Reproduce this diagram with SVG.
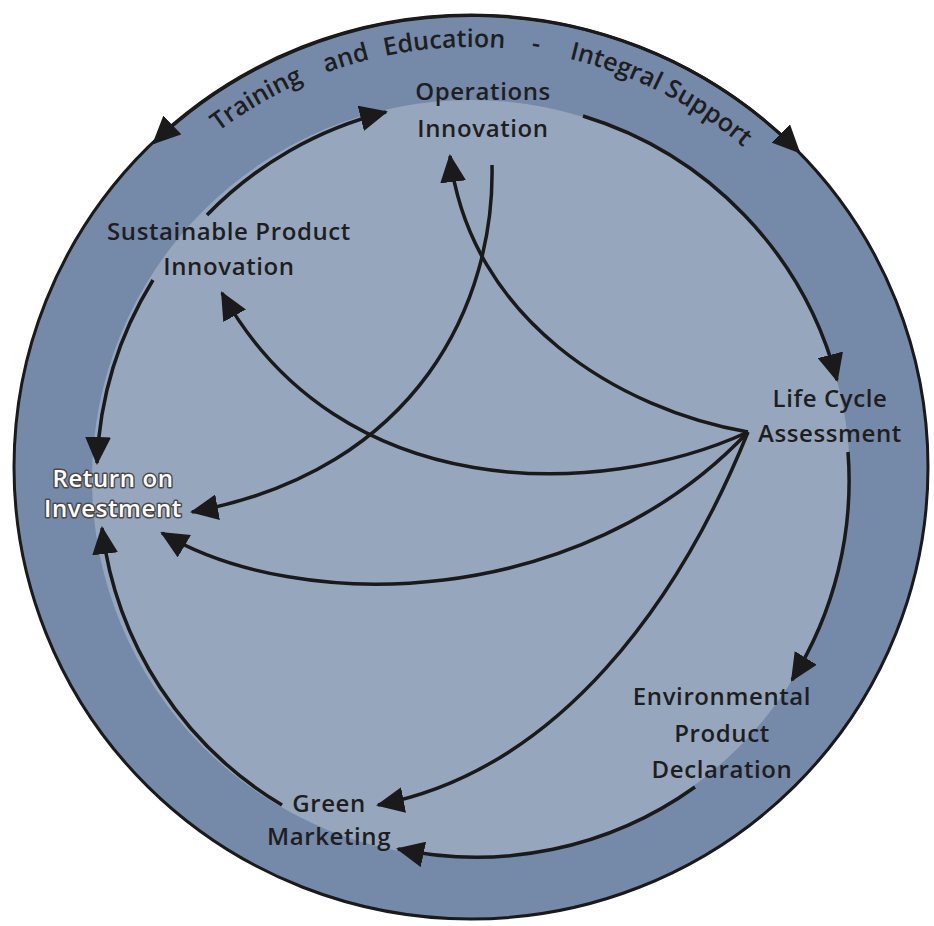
<svg xmlns="http://www.w3.org/2000/svg" width="934" height="926" viewBox="0 0 934 926">
<defs>
<style>
.lbl{font-family:"Open Sans","Noto Sans","Liberation Sans",sans-serif;font-weight:600;font-size:24px;letter-spacing:0.6px;fill:#1e1e1e;text-anchor:middle}
.roi{fill:#ffffff;stroke:#4a4a4a;stroke-width:3px;paint-order:stroke;stroke-linejoin:round}
.ring{font-family:"Open Sans","Noto Sans","Liberation Sans",sans-serif;font-weight:600;font-size:25px;fill:#1e1e1e}
.con{fill:none;stroke:#1a1a1a;stroke-width:3.5px;marker-end:url(#ah)}
</style>
<marker id="ah" markerUnits="userSpaceOnUse" markerWidth="28" markerHeight="26" viewBox="0 0 28 26" refX="26" refY="13" orient="auto">
<path d="M0,0 L28,13 L0,26 z" fill="#1a1a1a"/>
</marker>
<marker id="ah2" markerUnits="userSpaceOnUse" markerWidth="28" markerHeight="26" viewBox="0 0 28 26" refX="26" refY="13" orient="auto-start-reverse">
<path d="M0,0 L28,13 L0,26 z" fill="#1a1a1a"/>
</marker>
<path id="ringpath" d="M107.3,257 A420,420 0 0 1 834.7,257"/>
</defs>

<g id="background">
<ellipse cx="471" cy="467" rx="457" ry="452" fill="#7589a9" stroke="#1a1a1a" stroke-width="3"/>
<circle cx="471" cy="479" r="379" fill="#96a7bd"/>
</g>

<g id="outer-arrow">
<path d="M153.6,143 A457,452 0 0 1 799,152" fill="none" stroke="#1a1a1a" stroke-width="3" marker-start="url(#ah2)" marker-end="url(#ah2)"/>
<text class="ring"><textPath href="#ringpath" startOffset="24.8%" text-anchor="middle">Training</textPath></text>
<text class="ring"><textPath href="#ringpath" startOffset="35.8%" text-anchor="middle">and</textPath></text>
<text class="ring"><textPath href="#ringpath" startOffset="47%" text-anchor="middle">Education</textPath></text>
<text class="ring"><textPath href="#ringpath" startOffset="57.3%" text-anchor="middle">-</textPath></text>
<text class="ring"><textPath href="#ringpath" startOffset="66.6%" text-anchor="middle">Integral</textPath></text>
<text class="ring"><textPath href="#ringpath" startOffset="78.2%" text-anchor="middle">Support</textPath></text>
</g>

<g id="connectors">
<path class="con" d="M207,215 A376,376 0 0 1 386,112"/>
<path class="con" d="M583,116 A376,376 0 0 1 837,380"/>
<path class="con" d="M848,452 A376,376 0 0 1 792,680"/>
<path class="con" d="M695,787 A376,376 0 0 1 398,849"/>
<path class="con" d="M282,805 A376,376 0 0 1 102,528"/>
<path class="con" d="M153,280 A376,376 0 0 0 97,463"/>
<path class="con" d="M748,432 C620,410 470,320 450,156"/>
<path class="con" d="M748,432 C600,500 340,505 222,293"/>
<path class="con" d="M748,432 C580,610 300,615 162,533"/>
<path class="con" d="M748,432 C680,600 560,770 378,805"/>
<path class="con" d="M492,165 C495,300 420,470 192,512"/>
</g>

<g id="operations-innovation">
<text class="lbl" x="483" y="100">Operations</text>
<text class="lbl" x="483" y="137">Innovation</text>
</g>
<g id="sustainable-product-innovation">
<text class="lbl" x="229" y="240">Sustainable Product</text>
<text class="lbl" x="229" y="275">Innovation</text>
</g>
<g id="life-cycle-assessment">
<text class="lbl" x="830" y="407">Life Cycle</text>
<text class="lbl" x="830" y="442">Assessment</text>
</g>
<g id="environmental-product-declaration">
<text class="lbl" x="722" y="705">Environmental</text>
<text class="lbl" x="722" y="742">Product</text>
<text class="lbl" x="722" y="778">Declaration</text>
</g>
<g id="green-marketing">
<text class="lbl" x="329" y="812">Green</text>
<text class="lbl" x="329" y="845">Marketing</text>
</g>
<g id="return-on-investment">
<text class="lbl roi" x="113" y="487">Return on</text>
<text class="lbl roi" x="113" y="517">Investment</text>
</g>
</svg>
